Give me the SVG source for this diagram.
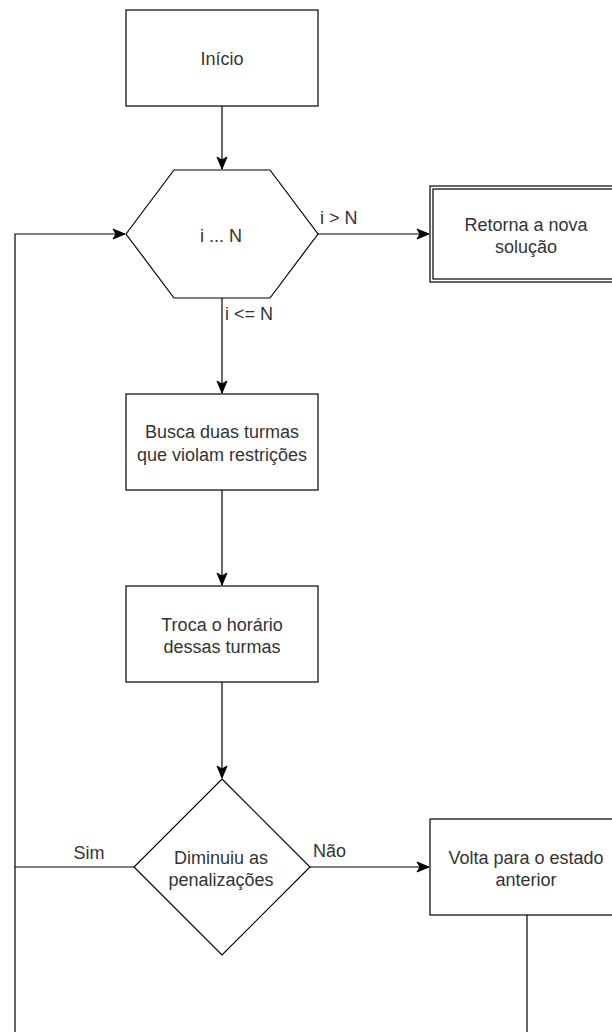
<svg xmlns="http://www.w3.org/2000/svg" width="612" height="1032" viewBox="0 0 612 1032">
<style>
.s{fill:#fff;stroke:#000;stroke-width:1.2}
.c{fill:none;stroke:#000;stroke-width:1.2}
.t{font-family:"Liberation Sans",Arial,sans-serif;font-size:18px;fill:#333;text-anchor:middle}
.l{font-family:"Liberation Sans",Arial,sans-serif;font-size:18px;fill:#333}
</style>
<defs>
<marker id="a" markerWidth="14" markerHeight="14" refX="13" refY="7" orient="auto" markerUnits="userSpaceOnUse">
<path d="M1,2 L13,7 L1,12 L4,7 Z" fill="#000" stroke="#000" stroke-width="1"/>
</marker>
</defs>
<rect width="612" height="1032" fill="#fff"/>
<g id="connectors">
<line class="c" x1="222" y1="106" x2="222" y2="169" marker-end="url(#a)"/>
<polyline class="c" points="15,1032 15,234 125,234" marker-end="url(#a)"/>
<line class="c" x1="318" y1="234" x2="429" y2="234" marker-end="url(#a)"/>
<line class="c" x1="222" y1="298" x2="222" y2="393" marker-end="url(#a)"/>
<line class="c" x1="222" y1="490" x2="222" y2="585" marker-end="url(#a)"/>
<line class="c" x1="222" y1="682" x2="222" y2="778" marker-end="url(#a)"/>
<line class="c" x1="134" y1="867" x2="15" y2="867"/>
<line class="c" x1="310" y1="867" x2="429" y2="867" marker-end="url(#a)"/>
<line class="c" x1="527" y1="915" x2="527" y2="1032"/>
<text class="l" x="320" y="224">i &gt; N</text>
<text class="l" x="225" y="320">i &lt;= N</text>
<text class="t" x="89" y="859">Sim</text>
<text class="l" x="313" y="857">Não</text>
</g>
<g id="inicio">
<rect class="s" x="126" y="10" width="192" height="96"/>
<text class="t" x="222" y="65">Início</text>
</g>
<g id="loop">
<polygon class="s" points="126,234 174,170 270,170 318,234 270,298 174,298"/>
<text class="t" x="221" y="242">i ... N</text>
</g>
<g id="retorna">
<rect class="s" x="430" y="186" width="192" height="96"/>
<rect class="c" x="433" y="189" width="186" height="90"/>
<text class="t" x="526" y="231">Retorna a nova</text>
<text class="t" x="526" y="253">solução</text>
</g>
<g id="busca">
<rect class="s" x="126" y="394" width="192" height="96"/>
<text class="t" x="222" y="438">Busca duas turmas</text>
<text class="t" x="222" y="461">que violam restrições</text>
</g>
<g id="troca">
<rect class="s" x="126" y="586" width="192" height="96"/>
<text class="t" x="222" y="631">Troca o horário</text>
<text class="t" x="222" y="653">dessas turmas</text>
</g>
<g id="diminuiu">
<polygon class="s" points="222,779 310,867 222,955 134,867"/>
<text class="t" x="221" y="864">Diminuiu as</text>
<text class="t" x="221" y="886">penalizações</text>
</g>
<g id="volta">
<rect class="s" x="430" y="819" width="192" height="96"/>
<text class="t" x="526" y="864">Volta para o estado</text>
<text class="t" x="526" y="886">anterior</text>
</g>
</svg>
